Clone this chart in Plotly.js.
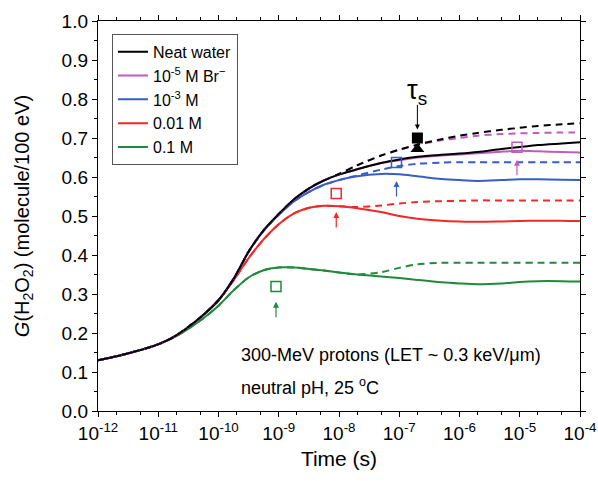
<!DOCTYPE html>
<html>
<head>
<meta charset="utf-8">
<script src="https://cdn.plot.ly/plotly-3.0.1.min.js"></script>
<style>html,body{margin:0;padding:0;background:#fff;}#chart{width:598px;height:481px;}</style>
</head>
<body>
<div id="chart"></div>
<script>
// Time grid (s)
const time = [1e-12, 3e-12, 1e-11, 2e-11, 5e-11, 1e-10, 1.8e-10, 3.2e-10, 5.6e-10, 1e-9,
  1.8e-9, 3.2e-9, 5.6e-9, 1e-8, 2e-8, 5e-8, 1e-7, 2e-7, 5e-7, 1e-6,
  2e-6, 5e-6, 1e-5, 2e-5, 5e-5, 1e-4];

// G(H2O2) solid / dashed curves
const neatSolid = [0.130,0.147,0.171,0.194,0.240,0.284,0.340,0.410,0.463,0.505,0.543,0.571,0.591,0.606,0.620,0.636,0.645,0.652,0.657,0.660,0.664,0.672,0.677,0.682,0.686,0.689];
const neatDash  = [0.130,0.147,0.171,0.194,0.240,0.284,0.340,0.410,0.463,0.505,0.543,0.571,0.591,0.608,0.630,0.655,0.670,0.683,0.697,0.706,0.713,0.721,0.726,0.731,0.735,0.738];
const br5Solid  = [0.130,0.147,0.171,0.194,0.240,0.284,0.340,0.410,0.463,0.505,0.543,0.571,0.591,0.606,0.620,0.636,0.643,0.650,0.655,0.658,0.661,0.665,0.667,0.666,0.664,0.663];
const br5Dash   = [0.130,0.147,0.171,0.194,0.240,0.284,0.340,0.410,0.463,0.505,0.543,0.571,0.591,0.608,0.630,0.655,0.670,0.682,0.694,0.700,0.706,0.710,0.712,0.713,0.714,0.714];
const br3Solid  = [0.130,0.147,0.171,0.194,0.240,0.284,0.340,0.410,0.462,0.503,0.538,0.562,0.580,0.592,0.602,0.608,0.607,0.602,0.595,0.592,0.590,0.592,0.594,0.594,0.593,0.592];
const br3Dash   = [0.130,0.147,0.171,0.194,0.240,0.284,0.340,0.410,0.462,0.503,0.538,0.562,0.580,0.592,0.604,0.619,0.628,0.634,0.637,0.638,0.638,0.638,0.638,0.638,0.638,0.638];
const br2Solid  = [0.130,0.147,0.171,0.194,0.240,0.284,0.336,0.393,0.440,0.479,0.507,0.521,0.526,0.525,0.520,0.510,0.500,0.493,0.488,0.486,0.485,0.486,0.487,0.488,0.488,0.487];
const br2Dash   = [0.130,0.147,0.171,0.194,0.240,0.284,0.336,0.393,0.440,0.479,0.507,0.521,0.526,0.525,0.523,0.527,0.532,0.536,0.538,0.539,0.540,0.540,0.540,0.540,0.540,0.540];
const br1Solid  = [0.130,0.147,0.171,0.192,0.232,0.270,0.310,0.343,0.361,0.368,0.368,0.364,0.360,0.355,0.350,0.345,0.341,0.336,0.330,0.327,0.325,0.327,0.331,0.333,0.333,0.332];
const br1Dash   = [0.130,0.147,0.171,0.192,0.232,0.270,0.310,0.343,0.361,0.368,0.368,0.364,0.360,0.355,0.350,0.356,0.367,0.376,0.380,0.380,0.380,0.380,0.380,0.380,0.380,0.380];

const seriesNames = ["Neat water", "10<sup>-5</sup> M Br<sup>\u2212</sup>", "10<sup>-3</sup> M", "0.01 M", "0.1 M"];
const seriesColors = ["#000000", "#c05cc0", "#3a5cc8", "#f02828", "#1f8a3c"];

// Open-square markers (onset times) with arrows
const markTime = [9e-10, 9e-9, 9e-8, 9e-6];
const markG = [0.319, 0.558, 0.637, 0.676];
const markColors = ["#1f8a3c", "#f02828", "#3a5cc8", "#c05cc0"];
const arrowTipG = [0.280, 0.510, 0.590, 0.644];

// tau_s markers
const tauTime = [2e-7];
const tauSquareG = [0.700];
const tauTriangleG = [0.672];
const tauArrowTipG = 0.722;

const xTickVals = [1e-12,1e-11,1e-10,1e-9,1e-8,1e-7,1e-6,1e-5,1e-4];
const xTickText = ["10<sup>-12</sup>","10<sup>-11</sup>","10<sup>-10</sup>","10<sup>-9</sup>","10<sup>-8</sup>","10<sup>-7</sup>","10<sup>-6</sup>","10<sup>-5</sup>","10<sup>-4</sup>"];

const solids = [neatSolid, br5Solid, br3Solid, br2Solid, br1Solid];
const dashes = [neatDash, br5Dash, br3Dash, br2Dash, br1Dash];

const traces = [];
for (let i = solids.length - 1; i >= 0; i--) {
  traces.push({x: time, y: solids[i], mode: "lines", name: seriesNames[i],
    line: {color: seriesColors[i], width: 2, shape: "spline", smoothing: 0.8}, showlegend: false});
}
for (let i = dashes.length - 1; i >= 0; i--) {
  traces.push({x: time, y: dashes[i], mode: "lines", name: seriesNames[i] + " dash",
    line: {color: seriesColors[i], width: 2, dash: "7px,5px", shape: "spline", smoothing: 0.8}, showlegend: false});
}
for (let i = 0; i < solids.length; i++) {
  traces.push({x: [null], y: [null], mode: "lines", name: seriesNames[i],
    line: {color: seriesColors[i], width: 2}, showlegend: true});
}
traces.push({x: markTime, y: markG, mode: "markers", showlegend: false,
  marker: {symbol: "square-open", size: 10, color: markColors, line: {width: 1.5, color: markColors}}});
traces.push({x: tauTime, y: tauSquareG, mode: "markers", showlegend: false,
  marker: {symbol: "square", size: 11, color: "#000"}});
traces.push({x: tauTime, y: tauTriangleG, mode: "markers", showlegend: false,
  marker: {symbol: "triangle-up", size: 12, color: "#000"}});

const font = "Liberation Sans, Arial, sans-serif";
const annotations = [];
for (let i = 0; i < markTime.length; i++) {
  annotations.push({x: Math.log10(markTime[i]), y: arrowTipG[i], xref: "x", yref: "y",
    text: "", showarrow: true, arrowhead: 2, arrowsize: 1, arrowwidth: 1.2,
    arrowcolor: markColors[i], ax: 0, ay: 17, standoff: 0});
}
annotations.push({x: Math.log10(tauTime[0]), y: tauArrowTipG, xref: "x", yref: "y",
  text: "", showarrow: true, arrowhead: 2, arrowsize: 1, arrowwidth: 1, arrowcolor: "#000",
  ax: 0, ay: -26, standoff: 0});
annotations.push({x: Math.log10(tauTime[0]), y: 0.818, xref: "x", yref: "y",
  text: "\u03c4<sub>s</sub>", showarrow: false, font: {family: font, size: 27, color: "#000"}});
annotations.push({x: 0.292, y: 0.144, xref: "paper", yref: "y", xanchor: "left",
  text: "300-MeV protons (LET ~ 0.3 keV/\u03bcm)", showarrow: false,
  font: {family: font, size: 18, color: "#000"}});
annotations.push({x: 0.292, y: 0.062, xref: "paper", yref: "y", xanchor: "left",
  text: "neutral pH, 25 <sup>o</sup>C", showarrow: false,
  font: {family: font, size: 18, color: "#000"}});

const layout = {
  width: 598, height: 481,
  margin: {l: 98, r: 18, t: 21, b: 70},
  paper_bgcolor: "#fff", plot_bgcolor: "#fff",
  font: {family: font, size: 16, color: "#000"},
  showlegend: true,
  legend: {x: 0.029, y: 0.967, xanchor: "left", yanchor: "top",
    bordercolor: "#555", borderwidth: 1, bgcolor: "#fff",
    font: {family: font, size: 16, color: "#000"}, tracegroupgap: 0, itemwidth: 30},
  xaxis: {type: "log", range: [-12, -4], tickvals: xTickVals, ticktext: xTickText,
    ticks: "outside", ticklen: 5, tickwidth: 1, tickcolor: "#000",
    showline: true, linecolor: "#000", linewidth: 1.2, mirror: "ticks",
    showgrid: false, zeroline: false,
    minor: {ticks: "outside", ticklen: 3, tickcolor: "#000", showgrid: false},
    tickfont: {family: font, size: 19},
    title: {text: "Time (s)", font: {family: font, size: 21}, standoff: 8}},
  yaxis: {range: [0, 1.0], dtick: 0.1, tickformat: ".1f",
    ticks: "outside", ticklen: 5, tickwidth: 1, tickcolor: "#000",
    showline: true, linecolor: "#000", linewidth: 1.2, mirror: "ticks",
    showgrid: false, zeroline: false,
    minor: {dtick: 0.05, ticks: "outside", ticklen: 3, tickcolor: "#000", showgrid: false},
    tickfont: {family: font, size: 19},
    title: {text: "<i>G</i>(H<sub>2</sub>O<sub>2</sub>) (molecule/100 eV)", font: {family: font, size: 20}, standoff: 26}},
  annotations: annotations
};

Plotly.newPlot("chart", traces, layout, {displayModeBar: false, staticPlot: true});
</script>
</body>
</html>
